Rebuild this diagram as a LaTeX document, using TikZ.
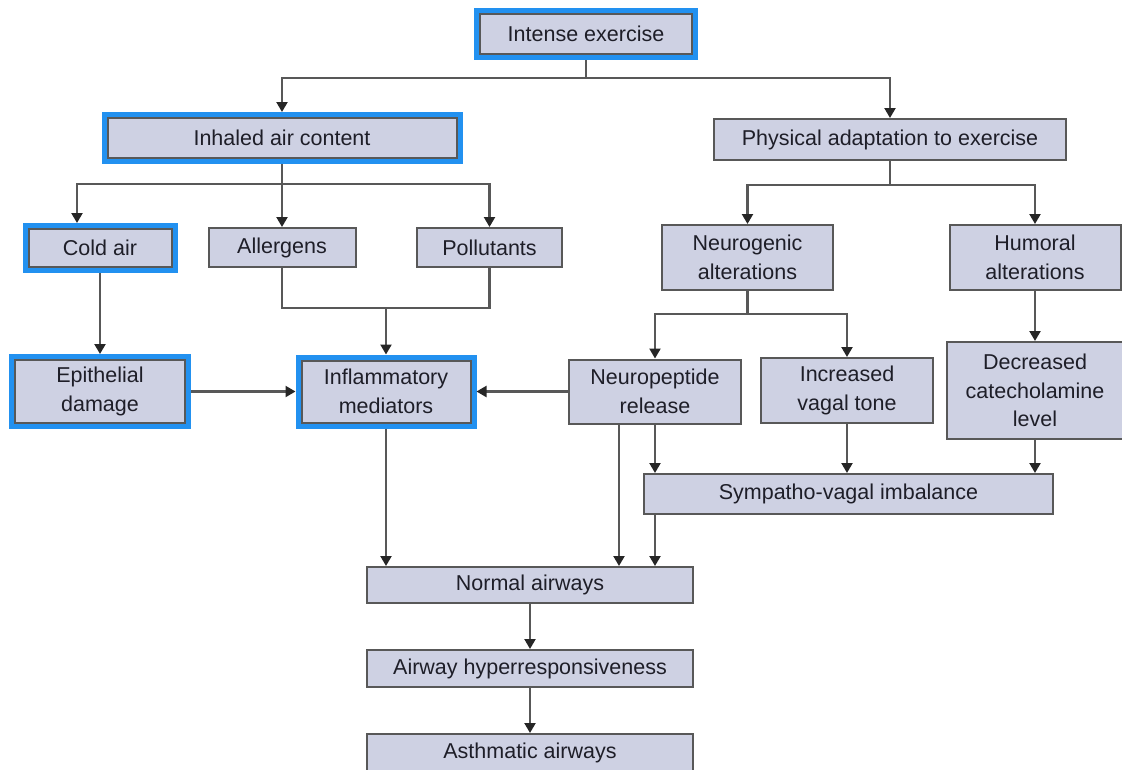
\documentclass[tikz,border=0pt]{standalone}
\usepackage{fontspec}
\setmainfont{Liberation Sans}
\usetikzlibrary{arrows.meta}
\definecolor{boxfill}{HTML}{CED1E3}
\definecolor{boxline}{HTML}{585858}
\definecolor{hlblue}{HTML}{2291F0}
\definecolor{txt}{HTML}{1E1E28}
\tikzset{
  box/.style={draw=boxline, line width=2pt, fill=boxfill, text=txt, align=center,
    inner sep=0pt, font=\fontsize{21.5}{28.5}\selectfont},
  hl/.style={box, preaction={draw=hlblue, line width=12pt}, outer sep=6pt},
  conn/.style={draw=boxline, line width=2.2pt},
  arr/.style={conn, -{Triangle[length=10pt,width=11pt,color=black!85]}}
}
\begin{document}
\begin{tikzpicture}[x=1pt,y=-1pt]
\useasboundingbox (0,0) rectangle (1122,769);
% nodes
\node[hl,  minimum width=212pt, minimum height=40pt] (ie)  at (586,34) {Intense exercise};
\node[hl,  minimum width=349pt, minimum height=40pt] (inh) at (282,138) {Inhaled air content};
\node[box, minimum width=352pt, minimum height=41pt] (phy) at (890,139.5) {Physical adaptation to exercise};
\node[hl,  minimum width=143pt, minimum height=38pt] (cold) at (100,248) {Cold air};
\node[box, minimum width=147pt, minimum height=39pt] (all) at (282,247.5) {Allergens};
\node[box, minimum width=145pt, minimum height=39pt] (pol) at (489.5,247.5) {Pollutants};
\node[box, minimum width=171pt, minimum height=65pt] (neu) at (747.5,257.5) {Neurogenic\\alterations};
\node[box, minimum width=171pt, minimum height=65pt] (hum) at (1035,257.5) {Humoral\\alterations};
\node[hl,  minimum width=170pt, minimum height=63pt] (epi) at (100,391.5) {Epithelial\\damage};
\node[hl,  minimum width=169pt, minimum height=62pt] (inf) at (386,391.5) {Inflammatory\\mediators};
\node[box, minimum width=172pt, minimum height=64pt] (np)  at (655,391.5) {Neuropeptide\\release};
\node[box, minimum width=172pt, minimum height=65pt] (ivt) at (847,390.5) {Increased\\vagal tone};
\node[box, minimum width=176pt, minimum height=97pt] (dcl) at (1035,390.5) {Decreased\\catecholamine\\level};
\node[box, minimum width=409pt, minimum height=40pt] (svi) at (848.5,494) {Sympatho-vagal imbalance};
\node[box, minimum width=326pt, minimum height=36pt] (na)  at (530,585) {Normal airways};
\node[box, minimum width=326pt, minimum height=37pt] (ah)  at (530,668.5) {Airway hyperresponsiveness};
\node[box, minimum width=326pt, minimum height=37pt] (aa)  at (530,752.5) {Asthmatic airways};
% junction coordinates
\coordinate (b1) at (586,78);
\coordinate (b2) at (282,184);
\coordinate (b3) at (890,185);
\coordinate (b4) at (386,308);
\coordinate (b5) at (747.5,314);
\coordinate (x77) at (77,0);
\coordinate (x619) at (619,0);
% connectors
\draw[conn] (ie.south) -- (b1);
\draw[arr] (b1) -| (inh.north);
\draw[arr] (b1) -| (phy.north);
\draw[conn] (inh.south) -- (b2);
\draw[arr] (b2) -| (x77 |- cold.north);
\draw[arr] (b2) -- (all.north);
\draw[arr] (b2) -| (pol.north);
\draw[conn] (phy.south) -- (b3);
\draw[arr] (b3) -| (neu.north);
\draw[arr] (b3) -| (hum.north);
\draw[arr] (cold.south) -- (epi.north);
\draw[conn] (all.south) |- (b4);
\draw[conn] (pol.south) |- (b4);
\draw[arr] (b4) -- (inf.north);
\draw[arr] (epi.east) -- (inf.west);
\draw[arr] (np.west) -- (inf.east);
\draw[conn] (neu.south) -- (b5);
\draw[arr] (b5) -| (np.north);
\draw[arr] (b5) -| (ivt.north);
\draw[arr] (hum.south) -- (dcl.north);
\draw[arr] (np.south) -- (np.south |- svi.north);
\draw[arr] (ivt.south) -- (ivt.south |- svi.north);
\draw[arr] (dcl.south) -- (dcl.south |- svi.north);
\draw[arr] (x619 |- np.south) -- (x619 |- na.north);
\draw[arr] (np.south |- svi.south) -- (np.south |- na.north);
\draw[arr] (inf.south) -- (inf.south |- na.north);
\draw[arr] (na.south) -- (ah.north);
\draw[arr] (ah.south) -- (aa.north);
\end{tikzpicture}
\end{document}
